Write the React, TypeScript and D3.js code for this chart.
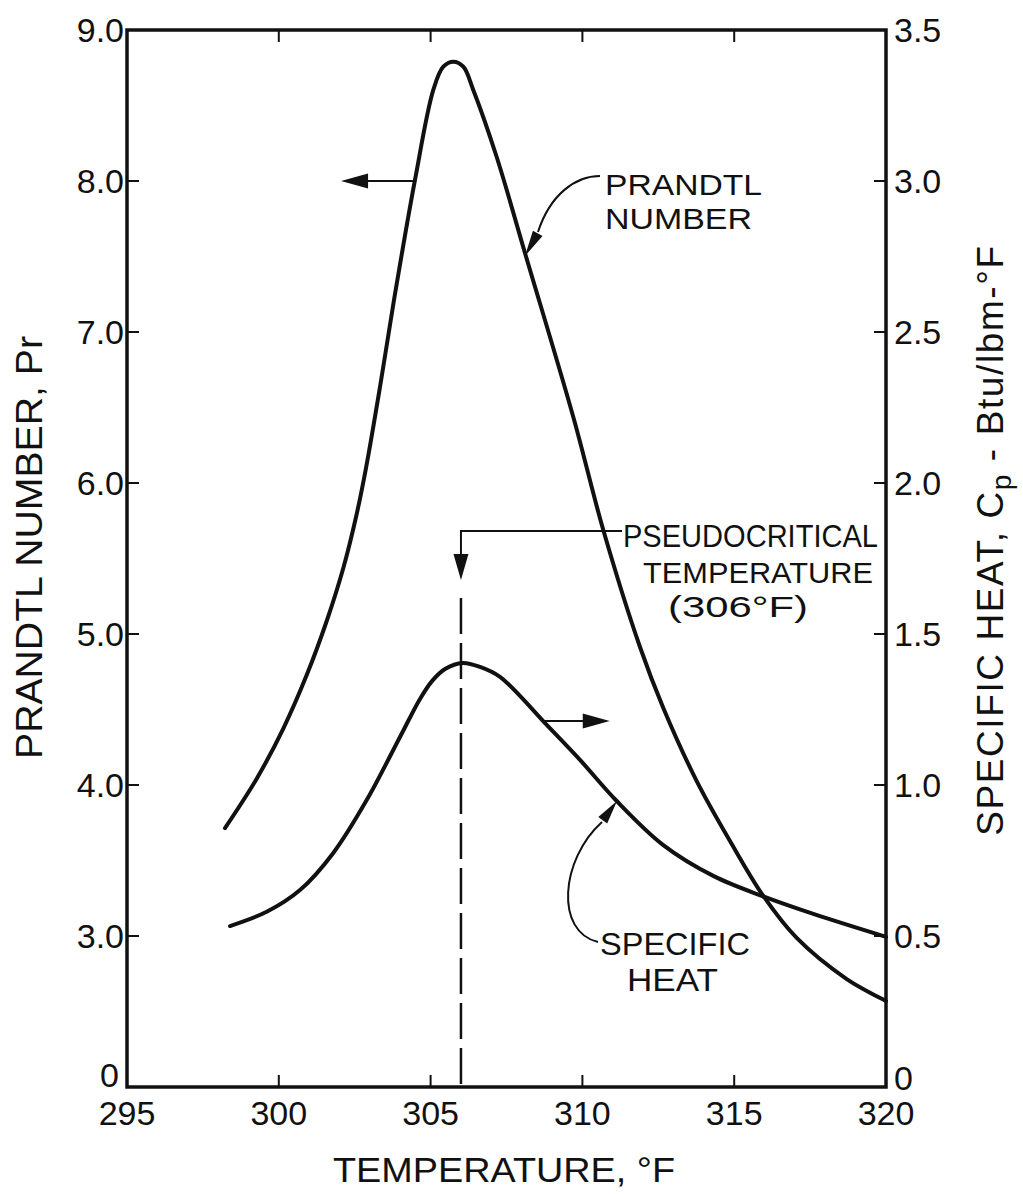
import React from 'react';
import * as d3 from 'd3';

// Prandtl number (left axis) vs temperature, °F
const prTemps = [298.228, 299.272, 300.148, 300.919, 301.578, 302.125, 302.566, 302.872, 303.333, 303.778, 304.486, 305.089, 305.418, 305.748, 306.077, 306.406, 307.177, 308.109, 309.7, 310.688, 311.897, 312.665, 313.765, 314.862, 315.959, 317.058, 318.706, 320];
const prValues = [3.715, 4.042, 4.374, 4.728, 5.086, 5.437, 5.795, 6.099, 6.636, 7.192, 8.007, 8.603, 8.757, 8.79, 8.757, 8.603, 8.159, 7.523, 6.437, 5.689, 4.914, 4.51, 4.026, 3.629, 3.265, 2.987, 2.715, 2.57];

// Specific heat, Btu/lbm-°F (right axis) vs temperature, °F
const cpTemps = [298.393, 299.601, 300.698, 301.795, 302.895, 303.992, 304.651, 305.046, 305.474, 306.057, 306.627, 307.286, 308.824, 309.921, 311.13, 312.665, 314.311, 315.959, 317.606, 320];
const cpValues = [0.533, 0.58, 0.652, 0.775, 0.95, 1.159, 1.285, 1.344, 1.384, 1.404, 1.391, 1.358, 1.199, 1.083, 0.947, 0.801, 0.699, 0.631, 0.573, 0.497];

const xTicks = [295, 300, 305, 310, 315, 320];
const xTopTicks = [300, 305, 310, 315];
const prTicks = [3, 4, 5, 6, 7, 8, 9];
const cpTicks = [0.5, 1, 1.5, 2, 2.5, 3, 3.5];
const pseudoT = 306;

const W = 1023;
const H = 1194;
const M = { left: 127, right: 886, top: 30, bottom: 1087 };
const FONT = "'Liberation Sans', Arial, sans-serif";

function head(tipX: number, tipY: number, fromX: number, fromY: number, len: number, half: number) {
  const dx = tipX - fromX;
  const dy = tipY - fromY;
  const L = Math.hypot(dx, dy) || 1;
  const ux = dx / L, uy = dy / L;
  const bx = tipX - ux * len, by = tipY - uy * len;
  const px = -uy * half, py = ux * half;
  return `M${tipX},${tipY}L${bx + px},${by + py}L${bx - px},${by - py}Z`;
}

export default function App() {
  const x = d3.scaleLinear().domain([295, 320]).range([M.left, M.right]);
  const yPr = d3.scaleLinear().domain([2, 9]).range([M.bottom, M.top]);
  const yCp = d3.scaleLinear().domain([0, 3.5]).range([M.bottom, M.top]);

  const prLine = d3
    .line<number>()
    .x((_, i) => x(prTemps[i]))
    .y((d) => yPr(d))
    .curve(d3.curveCatmullRom.alpha(0.5));
  const cpLine = d3
    .line<number>()
    .x((_, i) => x(cpTemps[i]))
    .y((d) => yCp(d))
    .curve(d3.curveCatmullRom.alpha(0.5));

  // annotation anchors
  const prArrowY = yPr(8.0);
  const prArrowX0 = x(304.52);
  const prArrowX1 = x(302.05);
  const cpArrowY = yCp(1.212);
  const cpArrowX0 = x(308.72);
  const cpArrowX1 = x(310.9);
  const pcX = x(pseudoT);
  const pcLineY = 531;
  const pcTipY = 580;

  const tick = 12;
  const ink = '#111';

  return (
    <svg
      width={W}
      height={H}
      viewBox={`0 0 ${W} ${H}`}
      style={{ position: 'absolute', left: 0, top: 0, background: '#fff' }}
      fontFamily={FONT}
    >
      <rect x={0} y={0} width={W} height={H} fill="#fff" />

      {/* frame */}
      <rect
        x={M.left}
        y={M.top}
        width={M.right - M.left}
        height={M.bottom - M.top}
        fill="none"
        stroke={ink}
        strokeWidth={3.5}
      />

      {/* bottom ticks */}
      {xTicks.map((t) => (
        <g key={'xb' + t}>
          {t !== 295 && t !== 320 && (
            <line x1={x(t)} x2={x(t)} y1={M.bottom} y2={M.bottom - tick} stroke={ink} strokeWidth={2} />
          )}
          <text x={x(t)} y={1125} textAnchor="middle" fontSize={34} fill={ink}>
            {t}
          </text>
        </g>
      ))}
      {xTopTicks.map((t) => (
        <line key={'xt' + t} x1={x(t)} x2={x(t)} y1={M.top} y2={M.top + tick} stroke={ink} strokeWidth={2} />
      ))}

      {/* left ticks */}
      {prTicks.map((v) => (
        <g key={'pl' + v}>
          {v !== 9 && (
            <line x1={M.left} x2={M.left + tick} y1={yPr(v)} y2={yPr(v)} stroke={ink} strokeWidth={2} />
          )}
          <text x={M.left - 3} y={yPr(v)} dy="0.36em" textAnchor="end" fontSize={34} fill={ink}>
            {v.toFixed(1)}
          </text>
        </g>
      ))}
      <text x={M.left - 8} y={M.bottom} textAnchor="end" fontSize={34} fill={ink}>
        0
      </text>

      {/* right ticks */}
      {cpTicks.map((v) => (
        <g key={'cr' + v}>
          {v !== 3.5 && (
            <line x1={M.right} x2={M.right - tick} y1={yCp(v)} y2={yCp(v)} stroke={ink} strokeWidth={2} />
          )}
          <text x={M.right + 8} y={yCp(v)} dy="0.36em" textAnchor="start" fontSize={34} fill={ink}>
            {v.toFixed(1)}
          </text>
        </g>
      ))}
      <text x={M.right + 8} y={M.bottom + 3} textAnchor="start" fontSize={34} fill={ink}>
        0
      </text>

      {/* axis titles */}
      <text x={333} y={1182} fontSize={35} fill={ink} textLength={342} lengthAdjust="spacingAndGlyphs">
        TEMPERATURE, °F
      </text>
      <text
        transform="translate(41.5,547.5) rotate(-90)"
        textAnchor="middle"
        fontSize={37}
        fill={ink}
        textLength={423}
        lengthAdjust="spacingAndGlyphs"
      >
        PRANDTL NUMBER, Pr
      </text>
      <text transform="translate(1003,540) rotate(-90)" textAnchor="middle" fontSize={37} fill={ink} letterSpacing={1.6}>
        SPECIFIC HEAT, C
        <tspan fontSize={28} dy={8}>p</tspan>
        <tspan dy={-8}> - Btu/lbm-°F</tspan>
      </text>

      {/* pseudocritical dashed line */}
      <line
        x1={pcX}
        x2={pcX}
        y1={598}
        y2={M.bottom}
        stroke={ink}
        strokeWidth={2.5}
        strokeDasharray="36,9"
      />

      {/* curves */}
      <path d={prLine(prValues) || ''} fill="none" stroke={ink} strokeWidth={4} strokeLinecap="round" strokeLinejoin="round" />
      <path d={cpLine(cpValues) || ''} fill="none" stroke={ink} strokeWidth={4} strokeLinecap="round" strokeLinejoin="round" />

      {/* Prandtl axis arrow (points left) */}
      <line x1={prArrowX0} x2={prArrowX1 + 20} y1={prArrowY} y2={prArrowY} stroke={ink} strokeWidth={2.2} />
      <path d={head(prArrowX1, prArrowY, prArrowX0, prArrowY, 27, 7.5)} fill={ink} />

      {/* Cp axis arrow (points right) */}
      <line x1={cpArrowX0} x2={cpArrowX1 - 20} y1={cpArrowY} y2={cpArrowY} stroke={ink} strokeWidth={2.2} />
      <path d={head(cpArrowX1, cpArrowY, cpArrowX0, cpArrowY, 27, 7.5)} fill={ink} />

      {/* pseudocritical leader */}
      <path d={`M622,${pcLineY}H${pcX}V${pcTipY - 20}`} fill="none" stroke={ink} strokeWidth={2} />
      <path d={head(pcX, pcTipY, pcX, pcLineY, 26, 7.5)} fill={ink} />

      {/* PRANDTL NUMBER leader */}
      <path d="M600,176 C575,176 550,195 538,232" fill="none" stroke={ink} strokeWidth={2} />
      <path d={head(525, 256, 539, 231, 26, 5.5)} fill={ink} />

      {/* SPECIFIC HEAT leader */}
      <path d="M598,942 C555,932 560,860 602,822" fill="none" stroke={ink} strokeWidth={2} />
      <path d={head(617, 801, 600, 824, 24, 5.5)} fill={ink} />

      {/* annotation labels */}
      <text x={605} y={195} fontSize={30} fill={ink} textLength={157} lengthAdjust="spacingAndGlyphs">
        PRANDTL
      </text>
      <text x={605} y={229} fontSize={30} fill={ink} textLength={147} lengthAdjust="spacingAndGlyphs">
        NUMBER
      </text>
      <text x={623} y={547} fontSize={31} fill={ink} textLength={255} lengthAdjust="spacingAndGlyphs">
        PSEUDOCRITICAL
      </text>
      <text x={643} y={583} fontSize={30} fill={ink} textLength={230} lengthAdjust="spacingAndGlyphs">
        TEMPERATURE
      </text>
      <text x={668} y={617} fontSize={30} fill={ink} textLength={140} lengthAdjust="spacingAndGlyphs">
        (306°F)
      </text>
      <text x={600} y={955} fontSize={31} fill={ink} textLength={150} lengthAdjust="spacingAndGlyphs">
        SPECIFIC
      </text>
      <text x={627} y={991} fontSize={31} fill={ink} textLength={91} lengthAdjust="spacingAndGlyphs">
        HEAT
      </text>
    </svg>
  );
}
